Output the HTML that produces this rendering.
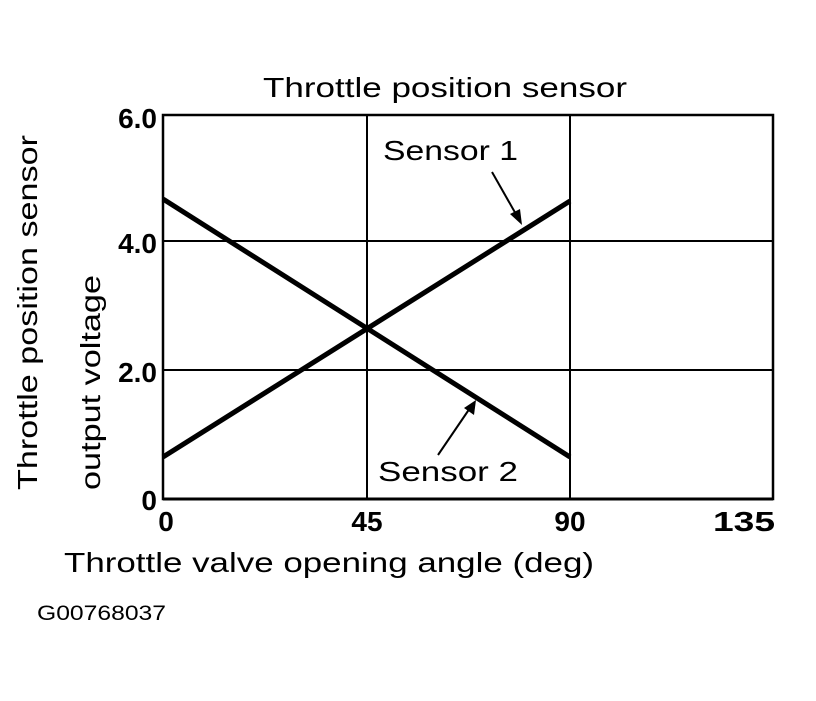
<!DOCTYPE html>
<html><head><style>body{margin:0;background:#fff}</style></head><body>
<svg width="816" height="696" viewBox="0 0 816 696" xmlns="http://www.w3.org/2000/svg" font-family="Liberation Sans, sans-serif">
<rect width="816" height="696" fill="#fff"/>
<text x="263" y="97" font-size="28" textLength="364" lengthAdjust="spacingAndGlyphs">Throttle position sensor</text>
<g stroke="#000" fill="none">
<rect x="163" y="115" width="610" height="384" stroke-width="2.5"/>
<line x1="163" y1="499" x2="773" y2="499" stroke-width="3"/>
<line x1="367" y1="115" x2="367" y2="499" stroke-width="2"/>
<line x1="570" y1="115" x2="570" y2="499" stroke-width="2"/>
<line x1="163" y1="241" x2="773" y2="241" stroke-width="2"/>
<line x1="163" y1="370" x2="773" y2="370" stroke-width="2"/>
<line x1="163" y1="199" x2="570" y2="457" stroke-width="5"/>
<line x1="163" y1="457" x2="570" y2="201" stroke-width="5"/>
<line x1="492" y1="172" x2="517" y2="216" stroke-width="2"/>
<line x1="438" y1="455" x2="470" y2="408" stroke-width="2"/>
</g>
<polygon points="522,225 510,214 520,209" fill="#000"/>
<polygon points="476,400 474,415 464,408" fill="#000"/>
<text x="383" y="160" font-size="28" textLength="135" lengthAdjust="spacingAndGlyphs">Sensor 1</text>
<text x="378" y="481" font-size="28" textLength="140" lengthAdjust="spacingAndGlyphs">Sensor 2</text>
<g font-size="28" font-weight="bold" text-anchor="end">
<text x="157" y="128">6.0</text>
<text x="157" y="253">4.0</text>
<text x="157" y="382">2.0</text>
<text x="157" y="510">0</text>
</g>
<g font-size="28" font-weight="bold" text-anchor="middle">
<text x="166" y="531">0</text>
<text x="367" y="531">45</text>
<text x="570" y="531">90</text>
<text x="744" y="531" textLength="62" lengthAdjust="spacingAndGlyphs">135</text>
</g>
<text transform="translate(37,490) rotate(-90)" font-size="28" textLength="355" lengthAdjust="spacingAndGlyphs">Throttle position sensor</text>
<text transform="translate(100,490) rotate(-90)" font-size="28" textLength="215" lengthAdjust="spacingAndGlyphs">output voltage</text>
<text x="64" y="572" font-size="28" textLength="530" lengthAdjust="spacingAndGlyphs">Throttle valve opening angle (deg)</text>
<text x="37" y="620" font-size="21" textLength="129" lengthAdjust="spacingAndGlyphs">G00768037</text>
</svg>
</body></html>
